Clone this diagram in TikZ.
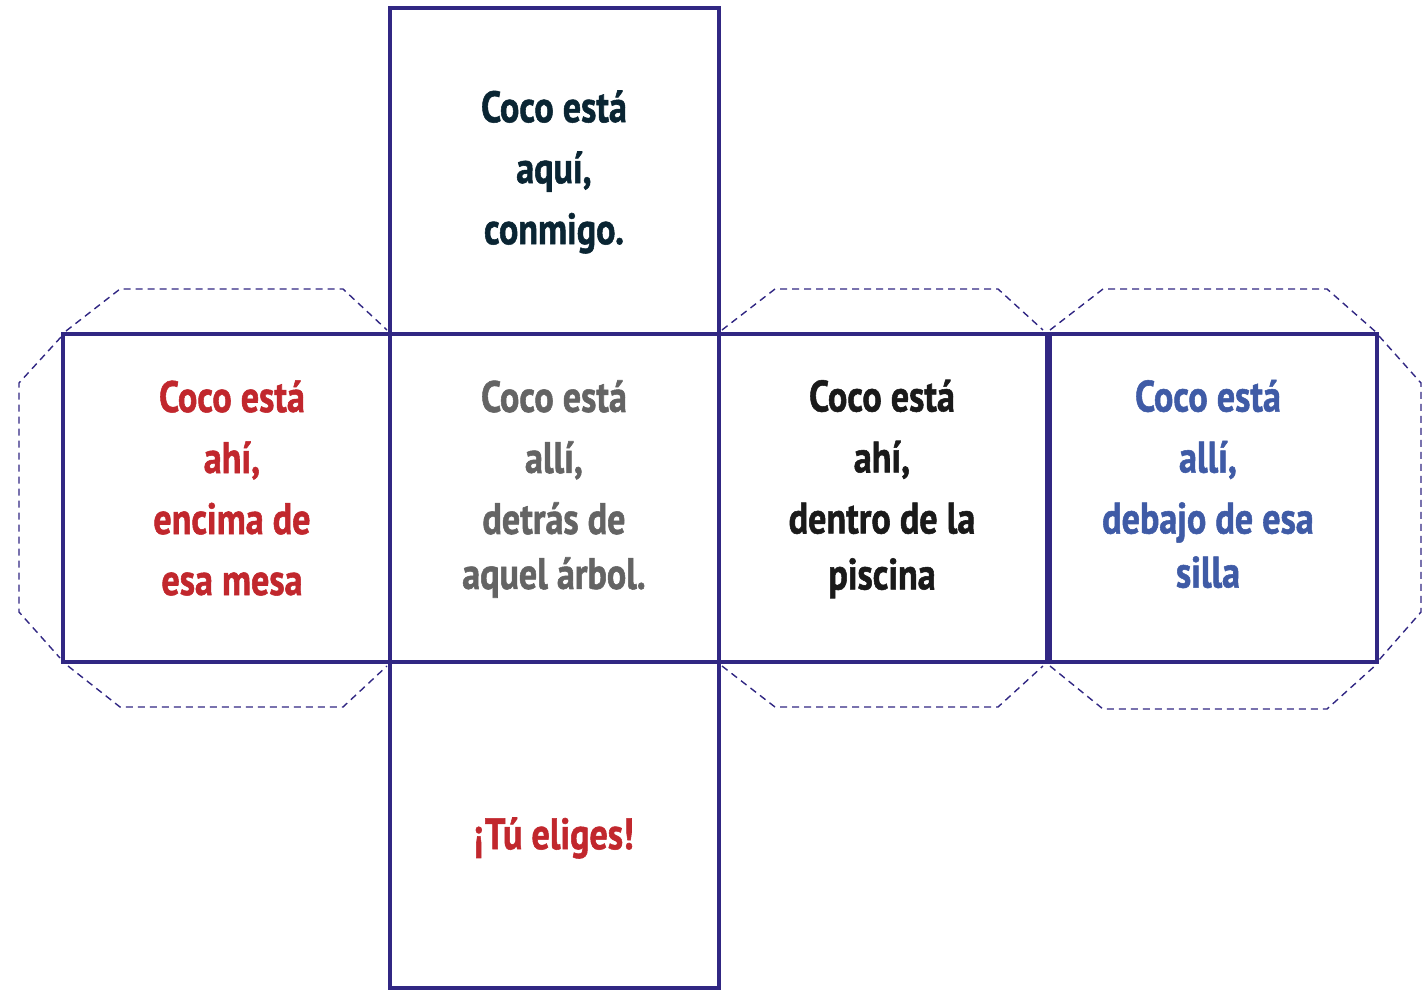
\documentclass[tikz,border=0pt]{standalone}
\usepackage{fontspec}
\setmainfont{PT Sans}[FakeStretch=0.82, BoldFeatures={FakeBold=1.2}]
\definecolor{netline}{HTML}{312783}
\definecolor{cocored}{HTML}{C1272D}
\definecolor{cocogrey}{HTML}{646464}
\definecolor{cocoblack}{HTML}{1A1A1A}
\definecolor{cocoteal}{HTML}{0A2533}
\definecolor{cocoblue}{HTML}{3F5BA6}
\begin{document}
\begin{tikzpicture}[x=1pt,y=-1pt,
  face/.style={draw=netline, line width=4.5pt},
  flap/.style={draw=netline, line width=1.4pt, dash pattern=on 7pt off 5pt},
  facetext/.style={align=center, inner sep=0pt, font=\fontsize{44}{61}\selectfont\bfseries}]
\useasboundingbox (0,0) rectangle (1423,991);
% faces
\path[face] (390,8) rectangle (719,334);
\path[face] (63,334) rectangle (390,662);
\path[face] (390,334) rectangle (719,662);
\path[face] (719,334) rectangle (1047,662);
\path[face] (1047,334) rectangle (1377,662);
\path[face] (390,662) rectangle (719,988);
\draw[netline, line width=3pt] (1050,334) -- (1050,662);
% flaps
\path[flap] (66,331) -- (120,289) -- (343,289) -- (387,330);
\path[flap] (61,337) -- (19,383) -- (19,612) -- (60,658);
\path[flap] (68,666) -- (120,707) -- (343,707) -- (387,666);
\path[flap] (722,330) -- (775,289) -- (998,289) -- (1043,330);
\path[flap] (722,666) -- (775,707) -- (998,707) -- (1043,666);
\path[flap] (1050,330) -- (1103,289) -- (1327,289) -- (1377,333);
\path[flap] (1379,336) -- (1421,383) -- (1421,612) -- (1379,660);
\path[flap] (1050,666) -- (1103,709) -- (1327,709) -- (1377,664);
% texts
\node[facetext, text=cocoteal] (ttop) at (554,172) {Coco está\\aquí,\\conmigo.};
\node[facetext, text=cocored] (tleft) at (232,488) {Coco está\\ahí,\\encima de\\esa mesa};
\node[facetext, text=cocogrey] (tcenter) at (554,489) {Coco está\\allí,\\detrás de\\[-6pt]aquel árbol.};
\node[facetext, text=cocoblack] (tfourth) at (882,489) {Coco está\\ahí,\\dentro de la\\[-5pt]piscina};
\node[facetext, text=cocoblue] (tfifth) at (1208,484) {Coco está\\allí,\\debajo de esa\\[-7pt]silla};
\node[facetext, text=cocored] (tbottom) at (554,838) {¡Tú eliges!};
\end{tikzpicture}
\end{document}
